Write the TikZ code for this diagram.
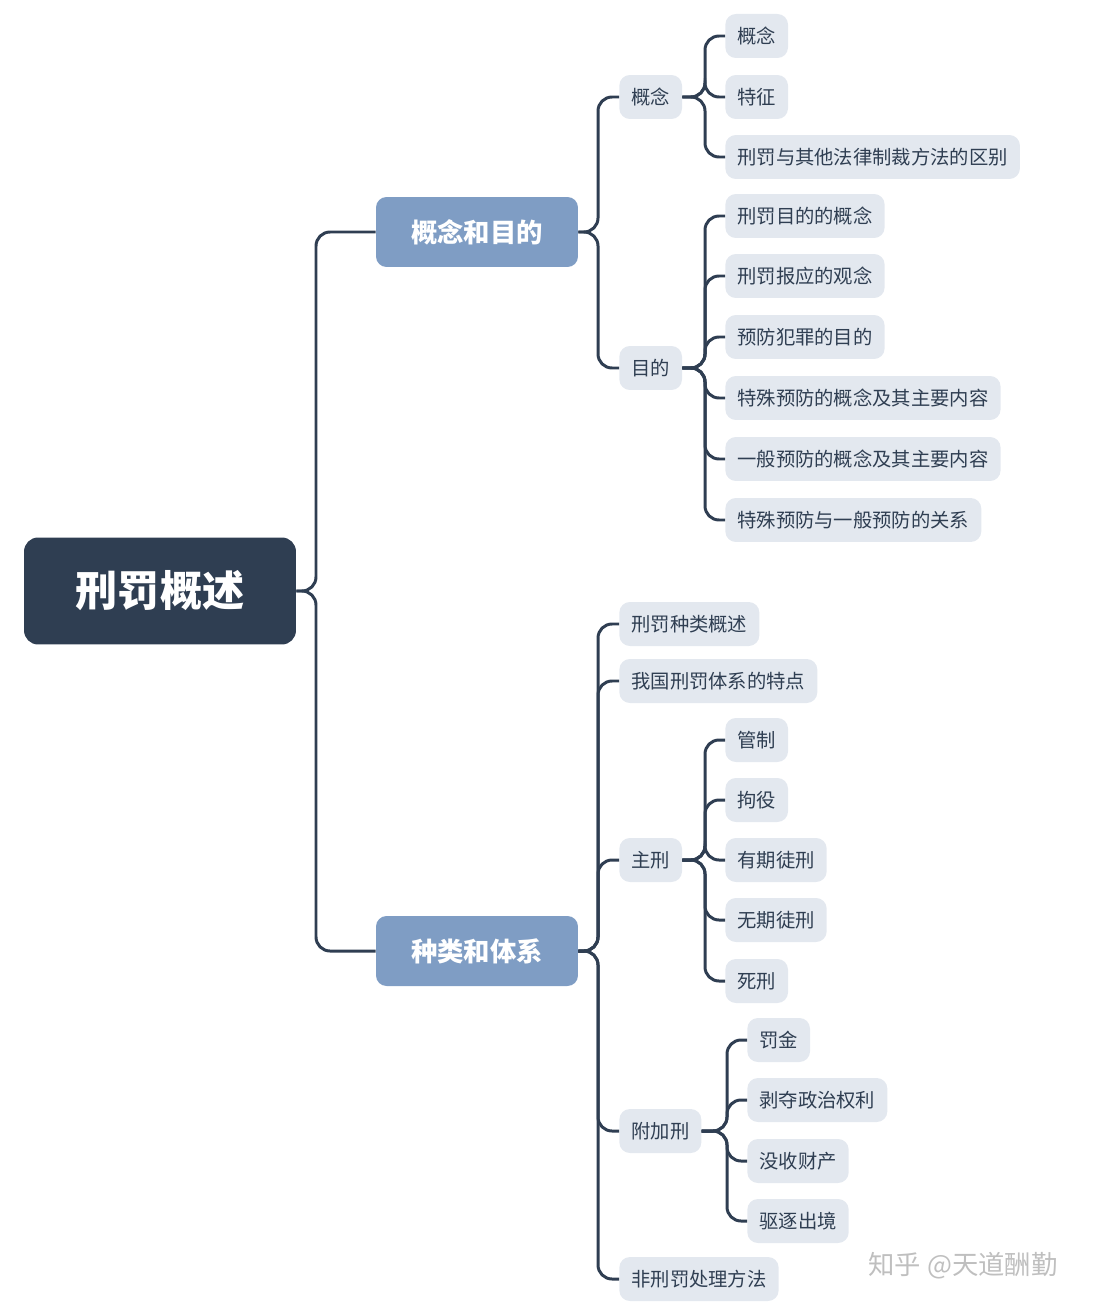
\documentclass[tikz,border=0pt]{standalone}
\usepackage{fontspec}
\setmainfont{Noto Sans CJK SC}
\usetikzlibrary{positioning}
\definecolor{darkblue}{HTML}{2F3E52}
\definecolor{midblue}{HTML}{7F9DC4}
\definecolor{paleblue}{HTML}{E3E8EF}
\tikzset{
  topic/.style = {rounded corners=6pt, inner xsep=0.24cm, minimum height=0.88cm,
    fill=paleblue, text=darkblue, font=\fontsize{11}{13}\selectfont},
  main/.style = {topic, fill=midblue, text=white, minimum width=4.04cm,
    minimum height=1.4cm, font=\fontsize{15}{18}\selectfont\bfseries},
  root/.style = {rounded corners=8pt, fill=darkblue, text=white,
    minimum width=5.44cm, minimum height=2.14cm,
    font=\fontsize{24}{28}\selectfont\bfseries},
  conn/.style = {draw=darkblue, line width=1.7pt, rounded corners=8pt}
}
\begin{document}
\begin{tikzpicture}[x=0.02cm, y=-0.02cm]
  \useasboundingbox (0,0) rectangle (1112,1314);
  % root and main branches
  \node (rt) [root] at (160,591) {刑罚概述};
  \node (mA) [main] at (477,232) {概念和目的};
  \node (mB) [main] at (477,951) {种类和体系};
  \foreach \m in {mA,mB}
    \draw[conn] (rt.east) -- (316,591) |- (\m.west);
  % first group
  \node (gA) [topic, anchor=west] at (619,97) {概念};
  \node (gB) [topic, anchor=west] at (619,368) {目的};
  \foreach \g in {gA,gB}
    \draw[conn] (mA.east) -- (598,232) |- (\g.west);
  \foreach \t/\y [count=\i] in {概念/36, 特征/97, 刑罚与其他法律制裁方法的区别/157}{
    \node (a\i) [topic, anchor=west] at (725,\y) {\t};
    \draw[conn] (gA.east) -- (705,97) |- (a\i.west);
  }
  \foreach \t/\y [count=\i] in {刑罚目的的概念/216, 刑罚报应的观念/276,
      预防犯罪的目的/337, 特殊预防的概念及其主要内容/398,
      一般预防的概念及其主要内容/459, 特殊预防与一般预防的关系/520}{
    \node (b\i) [topic, anchor=west] at (725,\y) {\t};
    \draw[conn] (gB.east) -- (705,368) |- (b\i.west);
  }
  % second group
  \foreach \t/\y/\n in {刑罚种类概述/624/kA, 我国刑罚体系的特点/681/kB,
      主刑/860/kC, 附加刑/1131/kD, 非刑罚处理方法/1279/kE}{
    \node (\n) [topic, anchor=west] at (619,\y) {\t};
    \draw[conn] (mB.east) -- (598,951) |- (\n.west);
  }
  \foreach \t/\y [count=\i] in {管制/740, 拘役/800, 有期徒刑/860, 无期徒刑/920, 死刑/981}{
    \node (c\i) [topic, anchor=west] at (725,\y) {\t};
    \draw[conn] (kC.east) -- (705,860) |- (c\i.west);
  }
  \foreach \t/\y [count=\i] in {罚金/1040, 剥夺政治权利/1100, 没收财产/1161, 驱逐出境/1221}{
    \node (d\i) [topic, anchor=west] at (747,\y) {\t};
    \draw[conn] (kD.east) -- (727,1131) |- (d\i.west);
  }
  \node (wm) [text=black!25, font=\fontsize{15}{18}\selectfont] at (963,1266) {知乎 @天道酬勤};
\end{tikzpicture}
\end{document}
